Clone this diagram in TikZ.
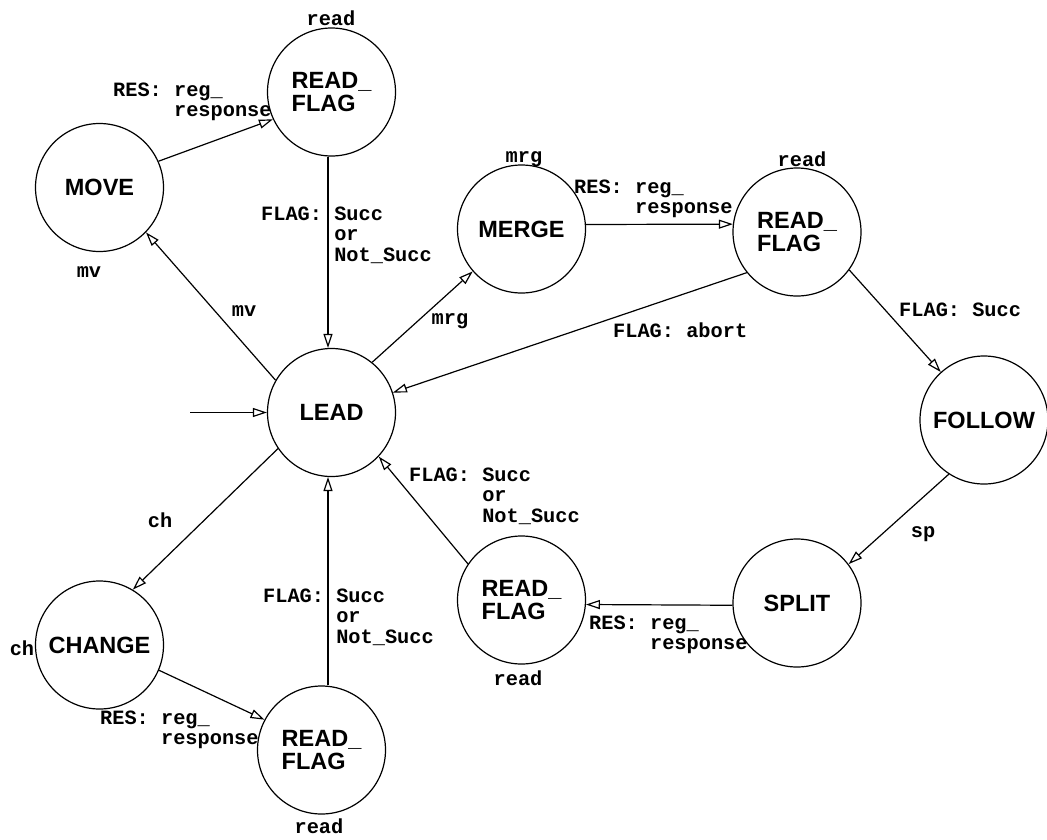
\documentclass[tikz,border=0pt]{standalone}
\usepackage{fontspec}
\newfontfamily\statefont{Liberation Sans}
\newfontfamily\labfont{Liberation Mono}
\usetikzlibrary{arrows.meta}
\newcommand{\twol}[2]{\begin{tabular}[t]{@{}l@{}}#1\\#2\end{tabular}}
\newcommand{\threel}[3]{\begin{tabular}[t]{@{}l@{}}#1\\#2\\#3\end{tabular}}
\begin{document}
\begin{tikzpicture}[x=1pt,y=-1pt,
  state/.style={draw, circle, line width=1.2pt, minimum size=128pt, inner sep=0pt,
    font=\statefont\bfseries\fontsize{23.5}{23}\selectfont, align=left},
  edge/.style={line width=1.2pt, -{Triangle[open,length=14pt,width=9pt]}},
  lab/.style={inner sep=0pt, font=\labfont\bfseries\fontsize{20.3}{20.5}\selectfont}]
\useasboundingbox (0,0) rectangle (1047,839);
% states
\node[state] (rf1) at (331.5,92) {READ\_\\FLAG};
\node[state] (move) at (99.5,187.5) {MOVE};
\node[state] (merge) at (521.5,229) {MERGE};
\node[state] (rf2) at (797,232) {READ\_\\FLAG};
\node[state] (lead) at (331.5,412.5) {LEAD};
\node[state] (follow) at (984,420) {FOLLOW};
\node[state] (split) at (797,603) {SPLIT};
\node[state] (rf3) at (521.5,600) {READ\_\\FLAG};
\node[state] (change) at (99.5,645) {CHANGE};
\node[state] (rf4) at (321.5,750) {READ\_\\FLAG};
\coordinate (init) at (190,412.5);
% transitions
\draw[edge] (move.24) -- (rf1.205);
\draw[edge] ([xshift=-3.5pt]rf1.south) -- ([xshift=-3.5pt]lead.north);
\draw[edge] (lead.150) -- (move.316);
\draw[edge] (lead.51) -- (merge.221);
\draw[edge] (merge.4) -- (rf2.173);
\draw[edge] (rf2.219) -- (lead.18);
\draw[edge] (rf2.324) -- (follow.132);
\draw[edge] (follow.237) -- (split.37);
\draw[edge] (split.182) -- (rf3.356);
\draw[edge] (rf3.146) -- (lead.317);
\draw[edge] (lead.214) -- (change.59);
\draw[edge] (change.337) -- (rf4.152);
\draw[edge] ([xshift=6.5pt]rf4.north) -- ([xshift=-3.5pt]lead.south);
\draw[edge] (init) -- (lead.west);
% labels
\node[lab, anchor=base] (rd1) at (331,25) {read};
\node[lab, anchor=base west] (res1) at (113,96) {\twol{RES: reg\_}{\phantom{RES: }response}};
\node[lab, anchor=base west] (flag1) at (261,220) {\threel{FLAG: Succ}{\phantom{FLAG: }or}{\phantom{FLAG: }Not\_Succ}};
\node[lab, anchor=base] (mv1) at (89,277) {mv};
\node[lab, anchor=base] (mv2) at (244,316) {mv};
\node[lab, anchor=base] (mrg1) at (524,162) {mrg};
\node[lab, anchor=base] (mrg2) at (450,324) {mrg};
\node[lab, anchor=base west] (res2) at (574,193) {\twol{RES: reg\_}{\phantom{RES: }response}};
\node[lab, anchor=base] (rd2) at (802,166) {read};
\node[lab, anchor=base west] (abort) at (613,337) {FLAG: abort};
\node[lab, anchor=base west] (flag2) at (899,316) {FLAG: Succ};
\node[lab, anchor=base] (sp) at (923,537) {sp};
\node[lab, anchor=base west] (flag3) at (409,481) {\threel{FLAG: Succ}{\phantom{FLAG: }or}{\phantom{FLAG: }Not\_Succ}};
\node[lab, anchor=base west] (res3) at (589,629) {\twol{RES: reg\_}{\phantom{RES: }response}};
\node[lab, anchor=base] (rd3) at (518,685) {read};
\node[lab, anchor=base] (ch1) at (160,527) {ch};
\node[lab, anchor=base] (ch2) at (22,655) {ch};
\node[lab, anchor=base west] (flag4) at (263,602) {\threel{FLAG: Succ}{\phantom{FLAG: }or}{\phantom{FLAG: }Not\_Succ}};
\node[lab, anchor=base west] (res4) at (100,724) {\twol{RES: reg\_}{\phantom{RES: }response}};
\node[lab, anchor=base] (rd4) at (319,833) {read};
\end{tikzpicture}
\end{document}
